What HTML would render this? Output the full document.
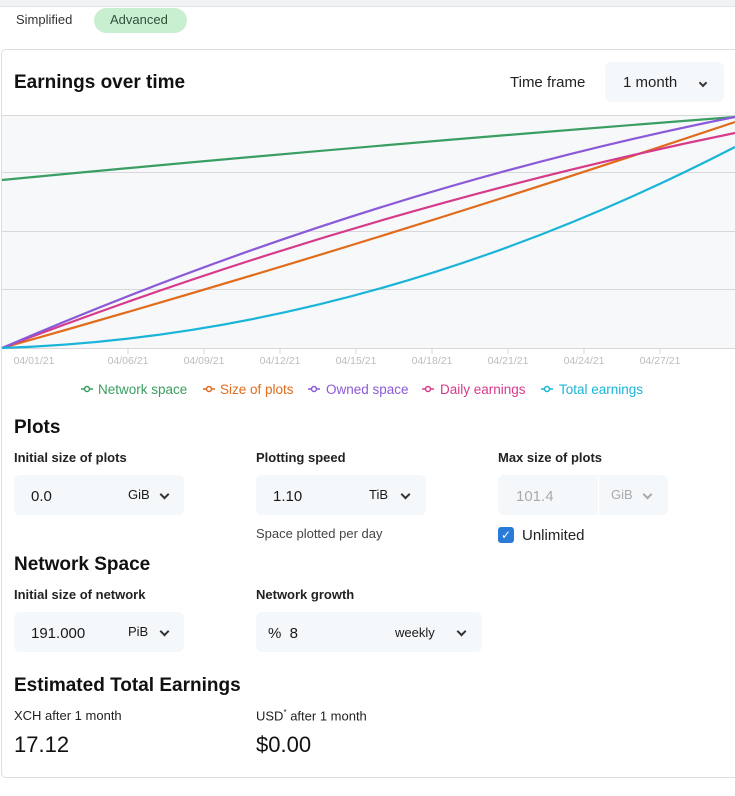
<!DOCTYPE html>
<html><head><meta charset="utf-8"><style>
body{margin:0;width:735px;height:796px;background:#fff;font-family:"Liberation Sans",sans-serif;color:#1a1a1a;position:relative;overflow:hidden}
.a{position:absolute;white-space:nowrap}
.lbl{font-size:13px;font-weight:bold;color:#222}
.box{position:absolute;background:#f5f8fb;border-radius:6px;height:40px}
.h{font-size:19px;font-weight:bold;color:#111}
.chev{display:inline-block;width:5px;height:5px;border-right:2px solid #333;border-bottom:2px solid #333;transform:rotate(45deg)}
</style></head><body>
<div class="a" style="left:0;top:0;width:735px;height:6px;background:#f0f2f4;border-bottom:1px solid #e2e5e8"></div>
<div class="a" style="left:16px;top:12px;font-size:13px;color:#333">Simplified</div>
<div class="a" style="left:94px;top:8px;width:93px;height:25px;border-radius:13px;background:#c8f0d0"></div>
<div class="a" style="left:110px;top:12px;font-size:13px;color:#2f4f3a">Advanced</div>
<div class="a" style="left:1px;top:49px;width:740px;height:727px;border:1px solid #dcdfe2;border-radius:5px"></div>
<div class="a h" style="left:14px;top:72px">Earnings over time</div>
<div class="a" style="left:510px;top:74px;font-size:15px;color:#222">Time frame</div>
<div class="box" style="left:605px;top:62px;width:119px;height:40px"></div>
<div class="a" style="left:623px;top:74px;font-size:15px;color:#222">1 month</div>
<div class="a" style="left:700px;top:73px"><span class="chev" style="width:4px;height:4px"></span></div>
<svg class="a" style="left:0;top:110px" width="735" height="260">
<rect x="2" y="5" width="733" height="233" fill="#f7f8fa"/>
<g stroke="#d8d8d8" stroke-width="1">
<line x1="2" y1="5.5" x2="735" y2="5.5"/><line x1="2" y1="62.5" x2="735" y2="62.5"/><line x1="2" y1="121.5" x2="735" y2="121.5"/><line x1="2" y1="179.5" x2="735" y2="179.5"/><line x1="2" y1="238.5" x2="735" y2="238.5"/>
<line x1="128" y1="238" x2="128" y2="244"/><line x1="204" y1="238" x2="204" y2="244"/><line x1="280" y1="238" x2="280" y2="244"/><line x1="356" y1="238" x2="356" y2="244"/><line x1="432" y1="238" x2="432" y2="244"/><line x1="508" y1="238" x2="508" y2="244"/><line x1="584" y1="238" x2="584" y2="244"/><line x1="660" y1="238" x2="660" y2="244"/>
</g>
<g fill="none" stroke-width="2.2">
<path d="M2,70 Q368,35 735,7" stroke="#3a9e62"/>
<path d="M2,238 Q368,135 735,12" stroke="#e06c1c"/>
<path d="M2,238 Q368,98 735,23" stroke="#d63a8a"/>
<path d="M2,238 Q368,80 735,7" stroke="#8a5ad8"/>
<path d="M2,238 Q368,226 735,37" stroke="#1ab4d8"/>
</g>
<g font-size="10.5" fill="#bcbcbc" font-family="Liberation Sans,sans-serif" text-anchor="middle">
<text x="34" y="254">04/01/21</text><text x="128" y="254">04/06/21</text><text x="204" y="254">04/09/21</text><text x="280" y="254">04/12/21</text><text x="356" y="254">04/15/21</text><text x="432" y="254">04/18/21</text><text x="508" y="254">04/21/21</text><text x="584" y="254">04/24/21</text><text x="660" y="254">04/27/21</text>
</g>
</svg>
<svg class="a" style="left:0;top:378px" width="735" height="24" font-family="Liberation Sans,sans-serif" font-size="13.5">
<g fill="none" stroke-width="1.5">
<line x1="81" y1="11" x2="93" y2="11" stroke="#3a9e62"/><circle cx="87" cy="11" r="2.5" stroke="#3a9e62" fill="#fff"/>
<line x1="203" y1="11" x2="215" y2="11" stroke="#e06c1c"/><circle cx="209" cy="11" r="2.5" stroke="#e06c1c" fill="#fff"/>
<line x1="308" y1="11" x2="320" y2="11" stroke="#8a5ad8"/><circle cx="314" cy="11" r="2.5" stroke="#8a5ad8" fill="#fff"/>
<line x1="422" y1="11" x2="434" y2="11" stroke="#d63a8a"/><circle cx="428" cy="11" r="2.5" stroke="#d63a8a" fill="#fff"/>
<line x1="541" y1="11" x2="553" y2="11" stroke="#1ab4d8"/><circle cx="547" cy="11" r="2.5" stroke="#1ab4d8" fill="#fff"/>
</g>
<text x="98" y="16" fill="#3a9e62">Network space</text>
<text x="220" y="16" fill="#e06c1c">Size of plots</text>
<text x="326" y="16" fill="#8a5ad8">Owned space</text>
<text x="440" y="16" fill="#d63a8a">Daily earnings</text>
<text x="559" y="16" fill="#1ab4d8">Total earnings</text>
</svg>
<div class="a h" style="left:14px;top:417px">Plots</div>
<div class="a lbl" style="left:14px;top:450px">Initial size of plots</div>
<div class="a lbl" style="left:256px;top:450px">Plotting speed</div>
<div class="a lbl" style="left:498px;top:450px">Max size of plots</div>
<div class="box" style="left:14px;top:475px;width:170px"></div>
<div class="a" style="left:31px;top:488px;font-size:15px">0.0</div>
<div class="a" style="left:128px;top:487px;font-size:13px">GiB</div>
<div class="a" style="left:161px;top:485px"><span class="chev"></span></div>
<div class="box" style="left:256px;top:475px;width:170px"></div>
<div class="a" style="left:273px;top:488px;font-size:15px">1.10</div>
<div class="a" style="left:369px;top:487px;font-size:13px">TiB</div>
<div class="a" style="left:402px;top:485px"><span class="chev"></span></div>
<div class="box" style="left:498px;top:475px;width:170px"></div>
<div class="a" style="left:598px;top:475px;width:1px;height:40px;background:#fff"></div>
<div class="a" style="left:516px;top:488px;font-size:15px;color:#aaa">101.4</div>
<div class="a" style="left:611px;top:487px;font-size:13px;color:#aaa">GiB</div>
<div class="a" style="left:644px;top:485px"><span class="chev" style="border-color:#aaa"></span></div>
<div class="a" style="left:256px;top:526px;font-size:13px;color:#444">Space plotted per day</div>
<div class="a" style="left:498px;top:527px;width:16px;height:16px;background:#2a7ad8;border-radius:3px;color:#fff;font-size:12px;text-align:center;line-height:16px">✓</div>
<div class="a" style="left:522px;top:527px;font-size:15px;color:#222">Unlimited</div>
<div class="a h" style="left:14px;top:554px">Network Space</div>
<div class="a lbl" style="left:14px;top:587px">Initial size of network</div>
<div class="a lbl" style="left:256px;top:587px">Network growth</div>
<div class="box" style="left:14px;top:612px;width:170px"></div>
<div class="a" style="left:31px;top:625px;font-size:15px">191.000</div>
<div class="a" style="left:128px;top:624px;font-size:13px">PiB</div>
<div class="a" style="left:161px;top:622px"><span class="chev"></span></div>
<div class="box" style="left:256px;top:612px;width:226px"></div>
<div class="a" style="left:268px;top:625px;font-size:15px">%&nbsp; 8</div>
<div class="a" style="left:395px;top:625px;font-size:13px">weekly</div>
<div class="a" style="left:458px;top:622px"><span class="chev"></span></div>
<div class="a h" style="left:14px;top:675px">Estimated Total Earnings</div>
<div class="a" style="left:14px;top:708px;font-size:13px;color:#222">XCH after 1 month</div>
<div class="a" style="left:256px;top:708px;font-size:13px;color:#222">USD<sup style="font-size:8px">*</sup> after 1 month</div>
<div class="a" style="left:14px;top:732px;font-size:22px;color:#111">17.12</div>
<div class="a" style="left:256px;top:732px;font-size:22px;color:#111">$0.00</div>
</body></html>
